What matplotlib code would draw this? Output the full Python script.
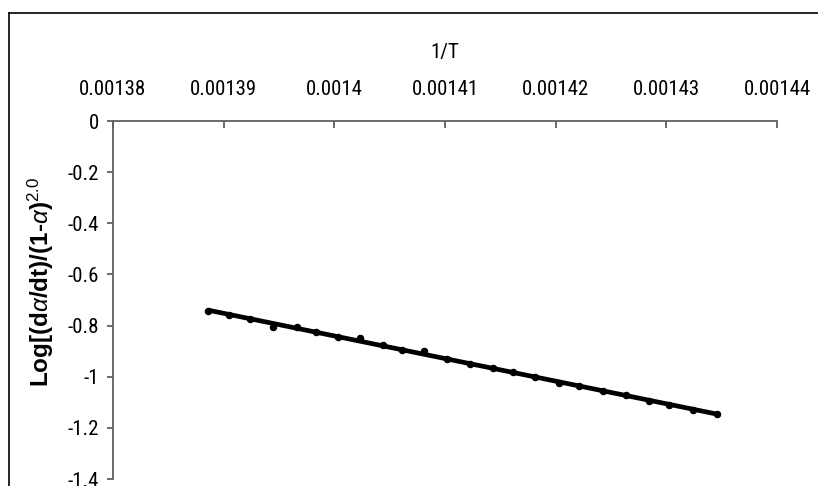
import numpy as np
import matplotlib
matplotlib.use("Agg")
import matplotlib.pyplot as plt
from matplotlib.lines import Line2D

plt.rcParams['axes.unicode_minus'] = False
plt.rcParams['mathtext.fontset'] = 'custom'
plt.rcParams['mathtext.rm'] = 'Liberation Sans'
plt.rcParams['mathtext.it'] = 'Liberation Sans:italic'
plt.rcParams['mathtext.bf'] = 'Liberation Sans:bold'

# ---- data ----
inv_T = [0.0013886, 0.0013905, 0.0013924, 0.0013945, 0.0013966, 0.0013983,
         0.0014003, 0.0014023, 0.0014044, 0.0014061, 0.0014081, 0.0014102,
         0.0014123, 0.0014143, 0.0014161, 0.0014181, 0.0014203, 0.0014221,
         0.0014243, 0.0014264, 0.0014284, 0.0014302, 0.0014324, 0.0014346]
log_rate = [-0.742, -0.759, -0.775, -0.804, -0.807, -0.827,
            -0.845, -0.848, -0.876, -0.895, -0.899, -0.931,
            -0.950, -0.967, -0.983, -1.000, -1.024, -1.036,
            -1.055, -1.073, -1.095, -1.110, -1.130, -1.145]

x_ticks = [0.00138, 0.00139, 0.00140, 0.00141, 0.00142, 0.00143, 0.00144]
x_tick_labels = ["0.00138", "0.00139", "0.0014", "0.00141", "0.00142", "0.00143", "0.00144"]
y_ticks = [0, -0.2, -0.4, -0.6, -0.8, -1.0, -1.2, -1.4]
y_tick_labels = ["0", "-0.2", "-0.4", "-0.6", "-0.8", "-1", "-1.2", "-1.4"]

x_label = "1/T"
y_label = r"Log[(d$\alpha$/dt)/(1-$\alpha$)$^{2.0}$"

W, H = 818, 486
fig = plt.figure(figsize=(W / 100, H / 100), dpi=100)
fig.patch.set_facecolor('white')

# axes placement (pixels): left 113, right 777, top 121, bottom 479
ax = fig.add_axes([113 / W, (H - 479) / H, (777 - 113) / W, (479 - 121) / H])

x = np.array(inv_T)
y = np.array(log_rate)

# linear trend line across data range
coef = np.polyfit(x, y, 1)
xf = np.array([x.min(), x.max()])
ax.plot(xf, np.polyval(coef, xf), color='black', lw=3.4, solid_capstyle='butt', zorder=2)
ax.plot(x, y, 'o', color='black', ms=4.4, zorder=3)

ax.set_xlim(0.00138, 0.00144)
ax.set_ylim(-1.4, 0)

spine_col = '#606060'
for s in ['right', 'bottom']:
    ax.spines[s].set_visible(False)
for s in ['left', 'top']:
    ax.spines[s].set_color(spine_col)
    ax.spines[s].set_linewidth(1.3)

tick_font = dict(family=['Roboto Condensed', 'Liberation Sans'], size=15)

ax.xaxis.set_ticks_position('top')
ax.xaxis.set_label_position('top')
ax.set_xticks(x_ticks)
ax.set_xticklabels(x_tick_labels, fontdict=tick_font)
ax.tick_params(axis='x', direction='in', length=5, width=1.3, color=spine_col, pad=16)

ax.set_yticks(y_ticks)
ax.set_yticklabels(y_tick_labels, fontdict=tick_font)
ax.tick_params(axis='y', direction='out', length=4, width=1.3, color=spine_col, pad=6)

ax.set_xlabel(x_label, fontdict=tick_font, labelpad=16)
ax.set_ylabel(y_label, family='Liberation Sans', fontsize=17.5, fontweight='bold',
              va='center', ha='center')
ax.yaxis.set_label_coords((41 - 113) / (777 - 113), (479 - 282) / (479 - 121))

# outer chart border (extends past right and bottom edges)
fig.add_artist(Line2D([8.5 / W, 8.5 / W], [0, (H - 13.5) / H], color='black', lw=1.2,
                      transform=fig.transFigure))
fig.add_artist(Line2D([8.5 / W, 1], [(H - 13.5) / H, (H - 13.5) / H], color='black', lw=1.2,
                      transform=fig.transFigure))

fig.savefig('out.png', dpi=100, facecolor='white')
